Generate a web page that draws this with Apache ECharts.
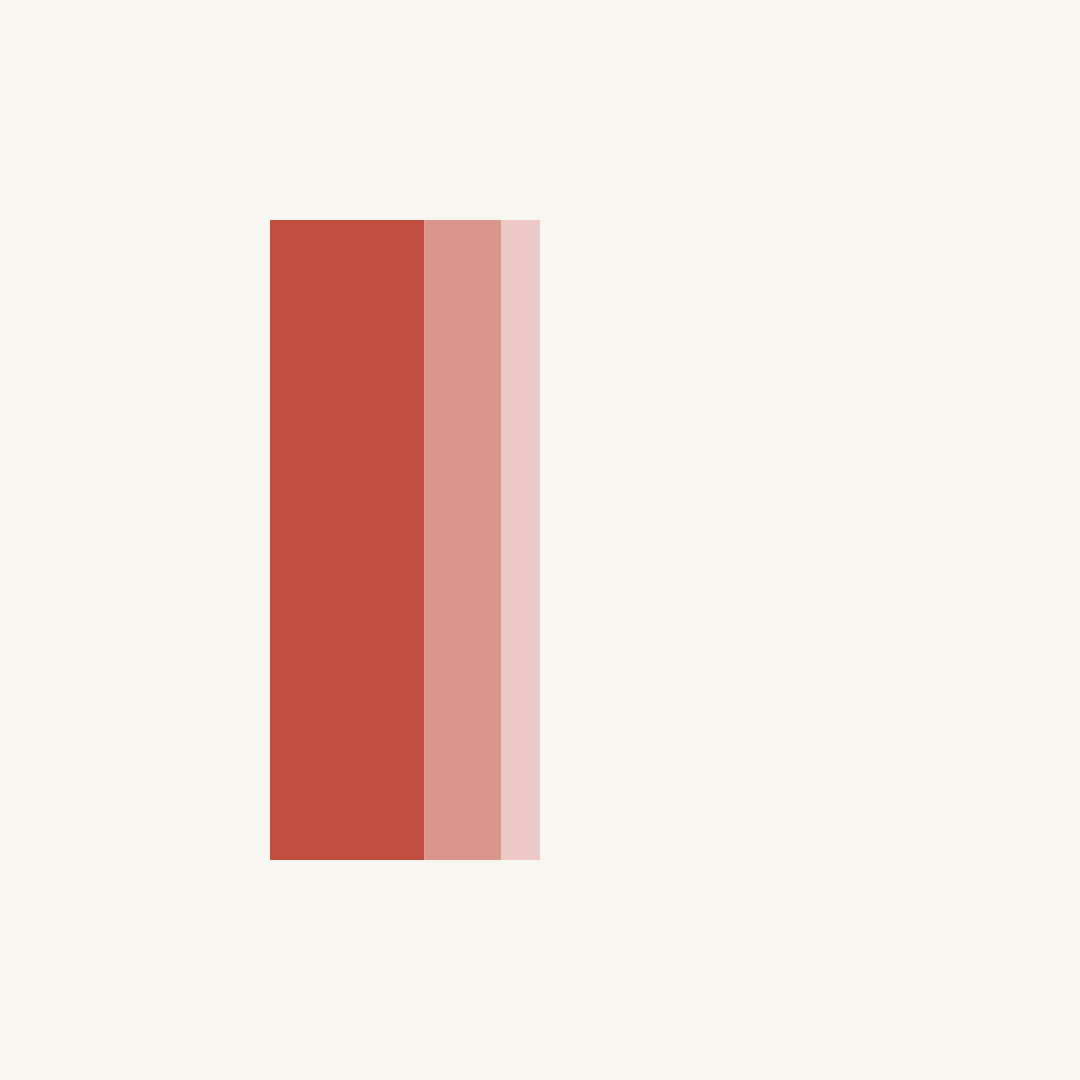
<!DOCTYPE html>
<html>
<head>
<meta charset="utf-8">
<script src="https://cdn.jsdelivr.net/npm/echarts@6/dist/echarts.min.js"></script>
<style>
  html, body { margin: 0; padding: 0; background: #f7f6f1; }
  #chart { width: 1080px; height: 1080px; }
</style>
</head>
<body>
<div id="chart"></div>
<script>
var categories = ['total'];
var partA = [4];
var partB = [2];
var partC = [1];

var colors = ['#c14f40', '#da968c', '#ecc9c5'];

var myChart = echarts.init(document.getElementById('chart'));

var option = {
    backgroundColor: '#f7f6f1',
    animation: false,
    grid: { left: 270, right: 540, top: 220, bottom: 220 },
    xAxis: {
        type: 'value',
        min: 0,
        max: 7,
        show: false
    },
    yAxis: {
        type: 'category',
        data: categories,
        show: false
    },
    series: [
        { name: 'A', type: 'bar', stack: 's', data: partA, barWidth: '100%', itemStyle: { color: colors[0] } },
        { name: 'B', type: 'bar', stack: 's', data: partB, barWidth: '100%', itemStyle: { color: colors[1] } },
        { name: 'C', type: 'bar', stack: 's', data: partC, barWidth: '100%', itemStyle: { color: colors[2] } }
    ]
};

myChart.setOption(option);
</script>
</body>
</html>
